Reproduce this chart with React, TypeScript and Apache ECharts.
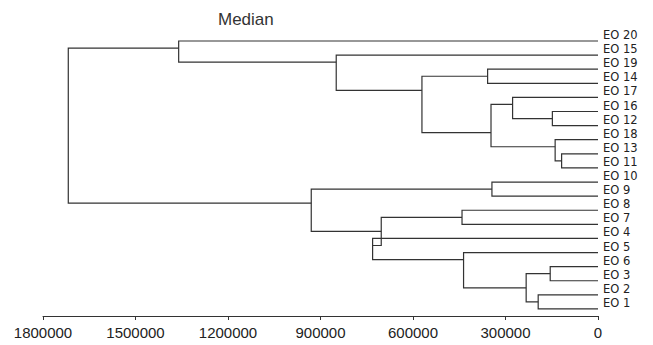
import React, { useEffect, useRef } from "react";
import * as echarts from "echarts";

// Leaves, top to bottom
const leafNames = [
  "EO 20", "EO 15", "EO 19", "EO 14", "EO 17", "EO 16", "EO 12", "EO 18", "EO 13", "EO 11",
  "EO 10", "EO 9", "EO 8", "EO 7", "EO 4", "EO 5", "EO 6", "EO 3", "EO 2", "EO 1",
];

// Merge steps: ids < 20 are leaves, id 20+k is merge k. mergeTop is the upper child.
const mergeTop = [8, 7, 5, 16, 18, 23, 4, 10, 26, 2, 15, 12, 29, 14, 31, 1, 27, 0, 37];
const mergeBottom = [9, 20, 6, 17, 19, 24, 22, 11, 21, 3, 25, 13, 28, 30, 33, 32, 34, 35, 36];
const mergeHeight = [
  118000, 139000, 148000, 155000, 194000, 233000, 277000, 344000, 347000, 358000,
  436000, 441000, 571000, 731000, 703000, 849000, 930000, 1360000, 1718000,
];

const axisMax = 1800000;
const axisStep = 300000;

const SANS = '"Liberation Sans", Arial, sans-serif';

function buildLinks() {
  const n = leafNames.length;
  const hi: number[] = [];
  const pos: number[] = [];
  const h: number[] = [];
  for (let i = 0; i < n; i++) {
    hi[i] = i;
    pos[i] = i;
    h[i] = 0;
  }
  const rows: number[][] = [];
  mergeTop.forEach((a, k) => {
    const b = mergeBottom[k];
    const id = n + k;
    hi[id] = hi[b];
    pos[id] = hi[a] + 0.5;
    h[id] = mergeHeight[k];
    rows.push([h[id], h[a], pos[a], h[b], pos[b]]);
  });
  return rows;
}

export default function App() {
  const ref = useRef<HTMLDivElement>(null);
  useEffect(() => {
    if (!ref.current) return;
    const chart = echarts.init(ref.current, null, { renderer: "svg" });
    const rows = buildLinks();
    chart.setOption({
      animation: false,
      backgroundColor: "#ffffff",
      title: {
        text: "Median",
        left: 213,
        top: 6,
        textStyle: { fontSize: 17, fontWeight: "normal", fontFamily: SANS, color: "#333" },
      },
      grid: { left: 43, right: 55, top: 41, bottom: 29 },
      xAxis: {
        type: "value",
        position: "bottom",
        inverse: true,
        min: 0,
        max: axisMax,
        interval: axisStep,
        axisLine: { show: true, onZero: false, lineStyle: { color: "#333", width: 1 } },
        axisTick: { show: true, length: 4, lineStyle: { color: "#333" } },
        splitLine: { show: false },
        axisLabel: {
          fontSize: 15,
          fontFamily: SANS,
          color: "#222",
          margin: 9,
          formatter: (v: number) => String(v),
        },
      },
      yAxis: {
        type: "value",
        position: "right",
        inverse: true,
        min: 0,
        max: 19.5,
        interval: 1,
        axisLine: { show: false },
        axisTick: { show: false },
        splitLine: { show: false },
        axisLabel: {
          margin: 5,
          fontSize: 11.5,
          fontFamily: '"DejaVu Sans", sans-serif',
          color: "#222",
          verticalAlign: "bottom",
          showMaxLabel: false,
          formatter: (v: number) => (Number.isInteger(v) && leafNames[v] ? leafNames[v] : ""),
        },
      },
      series: [
        {
          type: "custom",
          data: rows,
          encode: { x: [0, 1, 3], y: [2, 4] },
          renderItem: (params: any, api: any) => {
            const H = api.value(0);
            const h1 = api.value(1);
            const p1 = api.value(2);
            const h2 = api.value(3);
            const p2 = api.value(4);
            return {
              type: "polyline",
              shape: {
                points: [
                  api.coord([h1, p1]),
                  api.coord([H, p1]),
                  api.coord([H, p2]),
                  api.coord([h2, p2]),
                ],
              },
              style: { stroke: "#333", lineWidth: 1.2, fill: "none" },
            };
          },
        },
      ],
    });
    return () => chart.dispose();
  }, []);
  return (
    <div
      ref={ref}
      style={{ position: "fixed", left: 0, top: 0, width: 653, height: 345, background: "#fff" }}
    />
  );
}
